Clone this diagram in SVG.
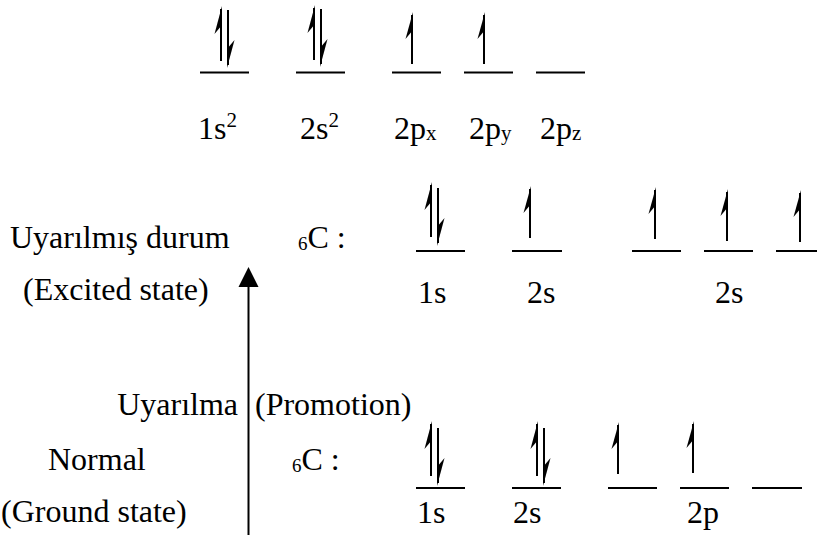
<svg xmlns="http://www.w3.org/2000/svg" xmlns:xlink="http://www.w3.org/1999/xlink" width="817" height="535" viewBox="0 0 817 535">
<style>
text{font-family:'Liberation Serif','Times New Roman','DejaVu Serif',serif;font-size:32px;fill:#000}
.sm{font-size:21px}
.sub6{font-size:19px}
.lv{stroke:#000;stroke-width:2;fill:none}
.ar{stroke:#000;stroke-width:2}
.hd{fill:#000;stroke:none}
</style>
<defs>
<g id="hu"><line class="ar" x1="0" y1="2" x2="0" y2="54"/><polygon class="hd" points="1,-1 -6.5,27 1,18"/></g>
<g id="hs"><line class="ar" x1="0" y1="2" x2="0" y2="51"/><polygon class="hd" points="1,-1 -6.5,26 1,17"/></g>
<g id="hd"><line class="ar" x1="0" y1="-2" x2="0" y2="-57"/><polygon class="hd" points="-1,1 6.5,-27 -1,-18"/></g>
<polygon id="bighead" points="0,0 -10,20 10,20" fill="#000"/>
</defs>
<rect width="817" height="535" fill="#fff"/>

<g id="top-row" font-family="Liberation Serif, Times New Roman, serif">
<g id="top-1s"><line class="lv" x1="200" y1="72.5" x2="249" y2="72.5"/><use xlink:href="#hu" x="221" y="7"/><use xlink:href="#hd" x="228" y="67"/><text x="198" y="139">1s<tspan class="sm" dy="-12">2</tspan></text></g>
<g id="top-2s"><line class="lv" x1="296" y1="72.5" x2="345" y2="72.5"/><use xlink:href="#hu" x="314" y="6"/><use xlink:href="#hd" x="321" y="66"/><text x="300" y="139">2s<tspan class="sm" dy="-12">2</tspan></text></g>
<g id="top-2px"><line class="lv" x1="392" y1="72.5" x2="441" y2="72.5"/><use xlink:href="#hs" x="412" y="13"/><text x="394" y="139">2p<tspan class="sm" dy="1">x</tspan></text></g>
<g id="top-2py"><line class="lv" x1="464" y1="72.5" x2="513" y2="72.5"/><use xlink:href="#hs" x="484" y="13"/><text x="469" y="139">2p<tspan class="sm" dy="1">y</tspan></text></g>
<g id="top-2pz"><line class="lv" x1="536" y1="72.5" x2="585" y2="72.5"/><text x="540" y="139">2p<tspan class="sm" dy="1">z</tspan></text></g>
</g>

<g id="excited">
<text x="10" y="248">Uyarılmış durum</text>
<text x="23" y="300">(Excited state)</text>
<text x="298" y="248"><tspan class="sub6" dy="2">6</tspan><tspan dy="-2">C :</tspan></text>
<g id="ex-1s"><line class="lv" x1="416" y1="251" x2="465" y2="251"/><use xlink:href="#hu" x="431" y="183"/><use xlink:href="#hd" x="438" y="245"/><text x="418" y="303">1s</text></g>
<g id="ex-2s"><line class="lv" x1="512" y1="251" x2="562" y2="251"/><use xlink:href="#hs" x="530" y="187"/><text x="527" y="303">2s</text></g>
<g id="ex-2p1"><line class="lv" x1="632" y1="251" x2="681" y2="251"/><use xlink:href="#hs" x="655" y="188"/></g>
<g id="ex-2p2"><line class="lv" x1="704" y1="251" x2="753" y2="251"/><use xlink:href="#hs" x="727" y="190"/><text x="715" y="303">2s</text></g>
<g id="ex-2p3"><line class="lv" x1="776" y1="251" x2="825" y2="251"/><use xlink:href="#hs" x="800" y="191"/></g>
</g>

<g id="ground">
<text x="238" y="415" text-anchor="end">Uyarılma</text>
<text x="255" y="415">(Promotion)</text>
<text x="48" y="470">Normal</text>
<text x="1" y="522">(Ground state)</text>
<text x="292" y="470"><tspan class="sub6" dy="2">6</tspan><tspan dy="-2">C :</tspan></text>
<g id="gr-1s"><line class="lv" x1="416" y1="488" x2="465" y2="488"/><use xlink:href="#hu" x="431" y="422"/><use xlink:href="#hd" x="438" y="485"/><text x="417" y="523">1s</text></g>
<g id="gr-2s"><line class="lv" x1="512" y1="488" x2="561" y2="488"/><use xlink:href="#hu" x="537" y="422"/><use xlink:href="#hd" x="544" y="485"/><text x="513" y="523">2s</text></g>
<g id="gr-2p1"><line class="lv" x1="608" y1="488" x2="657" y2="488"/><use xlink:href="#hs" x="618" y="423"/></g>
<g id="gr-2p2"><line class="lv" x1="680" y1="488" x2="729" y2="488"/><use xlink:href="#hs" x="693" y="422"/><text x="687" y="523">2p</text></g>
<g id="gr-2p3"><line class="lv" x1="752" y1="488" x2="802" y2="488"/></g>
</g>

<g id="connectors">
<line class="ar" x1="248.5" y1="285" x2="248.5" y2="535"/>
<use xlink:href="#bighead" x="248.5" y="267"/>
</g>
</svg>
